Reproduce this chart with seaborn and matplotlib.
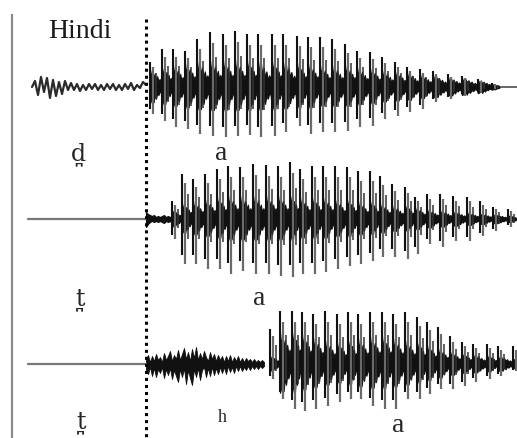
import numpy as np
import pandas as pd
import seaborn as sns
import matplotlib.pyplot as plt

sns.set_style("white")
plt.rcParams['font.family'] = ['Liberation Serif', 'DejaVu Serif']

# ---------------- data (time in ms from release, amplitude in arbitrary units) -------------
# Panel 1: voiced dental stop  d̪a  (prevoicing + vowel)
prevoice_step = 3
prevoice_amp = [0, 6, -8, 10, -5, 9, -11, 7, -9, 5, -7, 6, -3, 4, -3, 3, -4, 2, -3, 3,
                -2, 3, -3, 2, -3, 3, -2, 3, -3, 2, -3, 3, -2, 4, -3, 2, -1, 5, 2]
p1_t = [4, 16, 27, 39, 51, 64, 77, 89, 101, 112, 126, 137, 151, 162, 174, 186, 199, 211,
        224, 236, 249, 261, 274, 287, 302, 316, 332, 346]
p1_up = [25, 38, 38, 36, 48, 55, 53, 56, 53, 53, 53, 53, 51, 50, 50, 48, 43, 36, 35, 30,
         25, 20, 18, 16, 13, 11, 8, 4]
p1_down = [27, 34, 40, 42, 47, 49, 50, 49, 48, 50, 49, 45, 39, 47, 45, 45, 44, 40, 39, 32,
           29, 25, 22, 15, 12, 9, 5, 2]
p1_core = [18, 20, 22, 24, 26, 27, 27, 27, 27, 26, 26, 25, 24, 24, 22, 22, 22, 20, 19, 17,
           16, 15, 13, 12, 10, 9, 7, 3]

# Panel 2: voiceless unaspirated dental stop  t̪a
burst2_step = 2
burst2_up = [7, 5, 4, 3, 4, 2, 3, 2, 3, 4, 2, 3, 2, 3]
burst2_down = [8, 5, 3, 2, 3, 2, 3, 2, 3, 4, 2, 3, 2, 4]
p2_t = [26, 36, 47, 59, 71, 82, 94, 107, 120, 132, 144, 154, 166, 177, 189, 201, 212, 224,
        234, 246, 259, 269, 281, 294, 307, 321, 334, 347, 362]
p2_up = [18, 45, 40, 45, 50, 53, 52, 55, 54, 53, 57, 50, 53, 53, 53, 52, 48, 48, 43, 35,
         32, 22, 25, 25, 23, 22, 18, 12, 10]
p2_down = [20, 45, 45, 50, 50, 55, 52, 55, 55, 57, 58, 55, 55, 53, 50, 47, 45, 42, 38, 38,
           40, 35, 25, 28, 22, 22, 17, 12, 8]
p2_core = [9, 16, 18, 20, 22, 24, 24, 24, 24, 24, 24, 22, 22, 22, 20, 20, 18, 18, 16, 14,
           14, 12, 10, 9, 8, 7, 6, 5, 4]

# Panel 3: voiceless aspirated dental stop  t̪ʰa
asp_step = 2
asp_up = [5, 9, 2, 8, 3, 10, 4, 7, 2, 11, 4, 8, 13, 3, 9, 5, 14, 4, 10, 16, 5, 12, 3, 15,
          6, 17, 4, 11, 5, 13, 7, 3, 12, 5, 10, 3, 9, 4, 8, 2, 8, 3, 9, 2, 7, 3, 8, 2,
          6, 2, 6, 3, 5, 2, 5, 2, 4, 2, 4, 2]
asp_down = [7, 10, 3, 12, 4, 13, 5, 9, 3, 14, 5, 11, 4, 15, 6, 12, 18, 5, 13, 4, 20, 6,
            14, 21, 5, 13, 4, 16, 6, 3, 13, 4, 12, 3, 11, 4, 10, 3, 9, 3, 10, 2, 8, 3, 9,
            2, 7, 2, 7, 3, 6, 2, 6, 2, 5, 2, 5, 2, 4, 2]
p3_t = [124, 134, 146, 156, 167, 179, 191, 202, 212, 224, 236, 247, 259, 271, 281, 292,
        304, 316, 327, 341, 352, 367]
p3_up = [35, 53, 53, 52, 50, 53, 50, 52, 50, 52, 52, 50, 52, 47, 42, 37, 28, 22, 20, 20, 18, 18]
p3_down = [15, 35, 45, 47, 45, 42, 38, 35, 35, 42, 45, 45, 35, 35, 30, 25, 25, 22, 18, 15, 12, 7]
p3_core = [8, 32, 32, 30, 27, 24, 22, 24, 26, 28, 28, 26, 24, 22, 19, 16, 13, 11, 10, 9, 8, 5]

# typical shape of one glottal cycle (relative envelope of the ringing after a pulse)
cycle_hi = [1.0, 0.55, 0.95, 0.5, 0.75, 0.4, 0.6, 0.3, 0.45, 0.25]
cycle_lo = [0.9, 0.75, 0.5, 0.85, 0.45, 0.65, 0.35, 0.45, 0.25, 0.3]

labels = ["d\u032a", "t\u032a", "t\u032a"]

# ---------------- layout ----------------
W, H = 517, 439
X0 = -146                    # time at left edge of figure
centers = [88, 220, 365]     # baseline (pixel rows) of the three waveforms
fig = plt.figure(figsize=(W / 100, H / 100), dpi=100)
ax = fig.add_axes([0, 0, 1, 1])
ax.set_xlim(X0, X0 + W)
ax.set_ylim(H, 0)
ax.axis('off')

ink = '#111111'
grey = '#6a6a6a'


def draw_pulses(c, t, up, down, core, nxt_end):
    t = np.asarray(t, float); up = np.asarray(up, float)
    down = np.asarray(down, float); core = np.asarray(core, float)
    nxt = np.append(t[1:], nxt_end)
    n = len(cycle_hi)
    xs, hi, lo = [], [], []
    for ti, tn, ci in zip(t, nxt, core):
        frac = np.arange(n) / n
        xs += list(ti + frac * (tn - ti))
        hi += list(ci * np.array(cycle_hi))
        lo += list(ci * np.array(cycle_lo))
    xs = np.array(xs); hi = np.array(hi); lo = np.array(lo)
    ax.fill_between(xs, c - hi, c + lo, color=ink, lw=0.8, zorder=3)
    # spikes of each glottal pulse
    ax.vlines(t + 2.6, c - 0.8 * up, c + down, color=grey, lw=1.6, zorder=4)
    ax.vlines(t, c - up, c + 0.8 * down, color=ink, lw=1.5, zorder=4)
    ax.vlines(t + 5.5, c - 0.55 * up, c + 0.45 * down, color='#333333', lw=1.1, zorder=4)


# left frame line and dotted release line
ax.vlines(X0 + 12, 15, H, color='#8a8a8a', lw=1.6)
ax.vlines(0, 20, H, color='black', lw=2.2, linestyles=(0, (1, 1.3)), zorder=5)

# ---- panel 1
c = centers[0]
pv_t = -114 + prevoice_step * np.arange(len(prevoice_amp))
df = pd.DataFrame({'t': pv_t, 'y': c - np.array(prevoice_amp)})
sns.lineplot(data=df, x='t', y='y', ax=ax, color='#2a2a2a', lw=1.6, sort=False, estimator=None)
draw_pulses(c, p1_t, p1_up, p1_down, p1_core, p1_t[-1] + 8)
ax.plot([p1_t[-1] + 4, X0 + W], [c, c], color='#666666', lw=1.4)

# ---- panel 2
c = centers[1]
ax.plot([X0 + 28, 0], [c, c], color='#777777', lw=1.6)
b_t = burst2_step * np.arange(len(burst2_up))
ax.fill_between(b_t, c - np.array(burst2_up), c + np.array(burst2_down), color=ink, lw=0.8)
draw_pulses(c, p2_t, p2_up, p2_down, p2_core, X0 + W)

# ---- panel 3
c = centers[2]
ax.plot([X0 + 28, 0], [c, c], color='#777777', lw=1.6)
a_t = asp_step * np.arange(len(asp_up))
ax.fill_between(a_t, c - np.array(asp_up), c + np.array(asp_down), color=ink, lw=0.6)
draw_pulses(c, p3_t, p3_up, p3_down, p3_core, X0 + W)

# ---------------- text ----------------
seg_font = ['DejaVu Serif']
ax.text(X0 + 80, 38, "Hindi", fontsize=20, ha='center', va='baseline', color='#1a1a1a')
ax.text(X0 + 78, 160, labels[0], fontsize=17, ha='center', va='baseline', family=seg_font)
ax.text(X0 + 221, 160, "a", fontsize=20, ha='center', va='baseline')
ax.text(X0 + 81, 305, labels[1], fontsize=17, ha='center', va='baseline', family=seg_font)
ax.text(X0 + 259, 305, "a", fontsize=20, ha='center', va='baseline')
ax.text(X0 + 82, 428, labels[2], fontsize=17, ha='center', va='baseline', family=seg_font)
ax.text(X0 + 222, 422, "h", fontsize=13, ha='center', va='baseline')
ax.text(X0 + 398, 432, "a", fontsize=20, ha='center', va='baseline')

fig.savefig("out.png", dpi=100)
